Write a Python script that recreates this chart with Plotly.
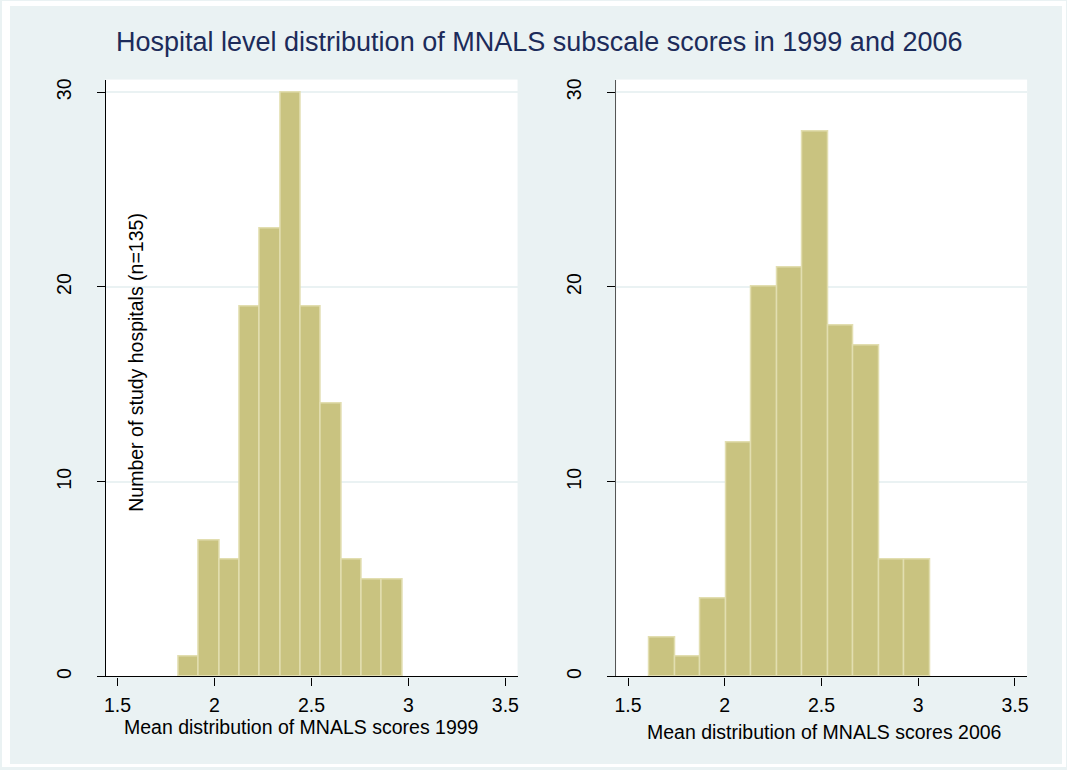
import plotly.graph_objects as go

W, H = 1067, 770

# Histogram bins (Stata-style: first bin edge, common width) and counts per bin
bin_start_1999 = 1.815
bin_width_1999 = 0.1049
counts_1999 = [1, 7, 6, 19, 23, 30, 19, 14, 6, 5, 5]

bin_start_2006 = 1.6116
bin_width_2006 = 0.1318
counts_2006 = [2, 1, 4, 12, 20, 21, 28, 18, 17, 6, 6]

x_ticks = [1.5, 2, 2.5, 3, 3.5]
x_tick_text = ["1.5", "2", "2.5", "3", "3.5"]
y_ticks = [0, 10, 20, 30]

title_text = "Hospital level distribution of MNALS subscale scores in 1999 and 2006"
xtitle_1999 = "Mean distribution of MNALS scores 1999"
xtitle_2006 = "Mean distribution of MNALS scores 2006"
ytitle = "Number of study hospitals (n=135)"

BG = "#eaf2f3"
BAR = "rgb(201,195,128)"
BAR_EDGE = "rgb(226,222,176)"
FONT = "Liberation Sans, Arial, sans-serif"


def centers(start, width, n):
    return [start + width * (i + 0.5) for i in range(n)]


fig = go.Figure()
fig.add_trace(go.Bar(
    x=centers(bin_start_1999, bin_width_1999, len(counts_1999)),
    y=counts_1999, width=bin_width_1999,
    marker=dict(color=BAR, line=dict(color=BAR_EDGE, width=1.5)),
    xaxis="x", yaxis="y", showlegend=False, hoverinfo="x+y",
))
fig.add_trace(go.Bar(
    x=centers(bin_start_2006, bin_width_2006, len(counts_2006)),
    y=counts_2006, width=bin_width_2006,
    marker=dict(color=BAR, line=dict(color=BAR_EDGE, width=1.5)),
    xaxis="x2", yaxis="y2", showlegend=False, hoverinfo="x+y",
))


def px_x(p):
    return p / W


def px_y(p):
    return 1 - p / H


ydom = [px_y(679), px_y(79)]

xaxis_common = dict(
    range=[1.439, 3.563], tickvals=x_ticks, ticktext=x_tick_text,
    showline=True, linecolor="black", linewidth=1.3,
    ticks="outside", ticklen=8, tickwidth=1.3, tickcolor="black",
    showgrid=False, zeroline=False,
    tickfont=dict(family=FONT, size=19.5, color="black"),
    ticklabelstandoff=3,
)
yaxis_common = dict(
    range=[0, 30.65], tickvals=y_ticks, tickangle=-90,
    showline=True, linewidth=1.3,
    ticks="outside", ticklen=8, tickwidth=1.3, tickcolor="black",
    showgrid=True, gridcolor=BG, gridwidth=2, zeroline=False,
    tickfont=dict(family=FONT, size=19.5, color="black"),
    ticklabelstandoff=18,
)

fig.update_layout(
    width=W, height=H,
    margin=dict(l=0, r=0, t=0, b=0),
    paper_bgcolor=BG, plot_bgcolor="white",
    bargap=0,
    xaxis=dict(domain=[px_x(104), px_x(517)], anchor="y", **xaxis_common),
    yaxis=dict(domain=ydom, anchor="x", linecolor="black", **yaxis_common),
    xaxis2=dict(domain=[px_x(616), px_x(1028)], anchor="y2", **xaxis_common),
    yaxis2=dict(domain=ydom, anchor="x2", linecolor="#555555", **yaxis_common),
    font=dict(family=FONT, color="black"),
)

# thin white frame around the graph region
for x0, y0, x1, y1 in [(0, 0, 8, H), (0, 0, W, 5), (1063, 0, W, H), (0, 767, W, H)]:
    fig.add_shape(type="rect", xref="paper", yref="paper",
                  x0=px_x(x0), x1=px_x(x1), y0=px_y(y1), y1=px_y(y0),
                  fillcolor="white", line=dict(width=0), layer="below")

fig.add_annotation(text=title_text, xref="paper", yref="paper",
                   x=px_x(539), y=px_y(41), showarrow=False,
                   xanchor="center", yanchor="middle",
                   font=dict(family=FONT, size=27, color="#1c2b5a"))
fig.add_annotation(text=xtitle_1999, xref="paper", yref="paper",
                   x=px_x(300), y=px_y(730), showarrow=False,
                   xanchor="center", yanchor="middle",
                   font=dict(family=FONT, size=19.5, color="black"))
fig.add_annotation(text=xtitle_2006, xref="paper", yref="paper",
                   x=px_x(824), y=px_y(735), showarrow=False,
                   xanchor="center", yanchor="middle",
                   font=dict(family=FONT, size=19.5, color="black"))
fig.add_annotation(text=ytitle, xref="paper", yref="paper",
                   x=px_x(134), y=px_y(363), showarrow=False, textangle=-90,
                   xanchor="center", yanchor="middle",
                   font=dict(family=FONT, size=19.5, color="black"))

fig.write_html("out.html", config={"displayModeBar": False})
